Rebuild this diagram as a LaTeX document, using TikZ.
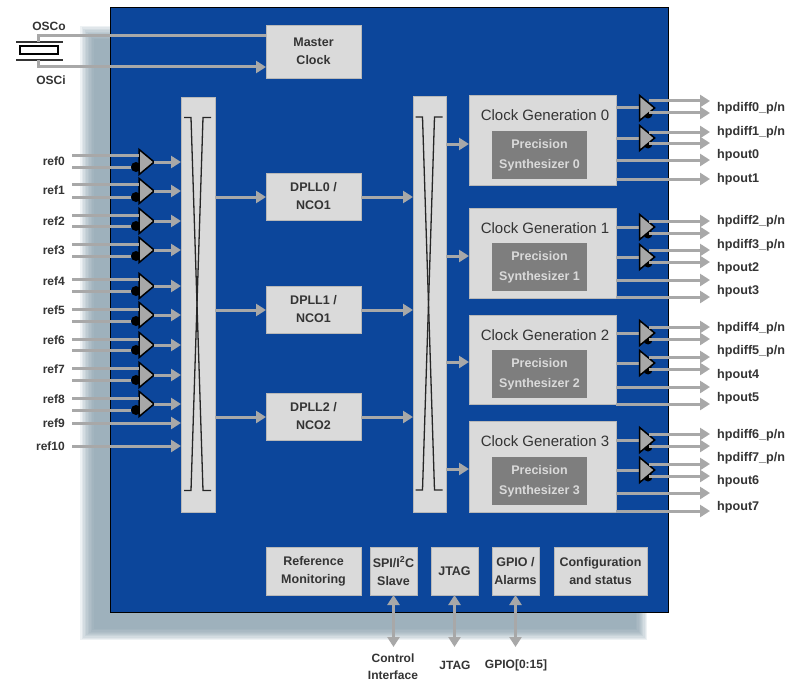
\documentclass[tikz,border=0pt]{standalone}
\usepackage{fontspec}
\setmainfont{Liberation Sans}
\usetikzlibrary{arrows.meta,shapes.geometric,calc}
\definecolor{panel}{RGB}{12,70,155}
\definecolor{boxg}{RGB}{218,218,218}
\definecolor{synth}{RGB}{126,126,126}
\definecolor{wire}{RGB}{168,168,168}
\definecolor{ink}{RGB}{52,52,52}
\definecolor{softshadow}{RGB}{130,155,170}
\tikzset{
  gbox/.style={draw=boxg!85!black,line width=.6pt,fill=boxg,text=ink,font=\bfseries\fontsize{12.5}{18}\selectfont,align=center,inner sep=0pt,outer sep=0pt},
  synthbox/.style={fill=synth,text=boxg,font=\bfseries\fontsize{12.5}{20}\selectfont,align=center,inner sep=0pt,outer sep=0pt},
  lab/.style={text=ink,font=\bfseries\fontsize{12}{17}\selectfont,inner sep=0pt,align=center},
  outlab/.style={lab,anchor=west,font=\bfseries\fontsize{12.6}{17}\selectfont},
  reflab/.style={lab,anchor=east},
  wireline/.style={draw=wire,line width=3pt},
  arrowline/.style={wireline,-{Triangle[length=10pt,width=12pt]}},
  biline/.style={wireline,{Triangle[length=10pt,width=12pt]}-{Triangle[length=10pt,width=12pt]}},
  tri/.style={isosceles triangle,isosceles triangle apex angle=60,isosceles triangle stretches,minimum width=25pt,minimum height=15pt,inner sep=0pt,outer sep=0pt,draw=black,line width=1.5pt,fill=wire},
  dot/.style={circle,fill=black,minimum size=10pt,inner sep=0pt},
  xline/.style={draw=black!85,line width=1.3pt},
}
\begin{document}
\begin{tikzpicture}[x=1pt,y=-1pt]
\useasboundingbox (0,0) rectangle (797,682);
\fill[white] (0,0) rectangle (797,682);
% soft shadow
\foreach \i in {0,...,9}{
  \fill[softshadow,opacity=.13] ({80+1.5*\i},{26+1.5*\i}) rectangle ({647-1.2*\i},{640-1.2*\i});
}
% panel
\node[draw=black,line width=.8pt,fill=panel,minimum width=558pt,minimum height=605pt,inner sep=0pt,outer sep=0pt] (panel) at (389,309.5) {};

% blocks
\node[gbox,minimum width=95pt,minimum height=53pt] (mc) at (313.5,51.5) {Master\\Clock};
\node[gbox,minimum width=34pt,minimum height=415pt] (mxl) at (198,304.5) {};
\node[gbox,minimum width=33pt,minimum height=416pt] (mxr) at (429.5,304) {};
\node[gbox,minimum width=95pt,minimum height=47pt] (d0) at (313.5,196.5) {DPLL0 /\\NCO1};
\node[gbox,minimum width=95pt,minimum height=47pt] (d1) at (313.5,309.5) {DPLL1 /\\NCO1};
\node[gbox,minimum width=95pt,minimum height=47pt] (d2) at (313.5,416.5) {DPLL2 /\\NCO2};

% crossbar strokes
\foreach \m in {mxl,mxr}{
  \draw[xline] ([shift={(-14pt,-186pt)}]\m.center) -- ++(7,0) -- ([shift={(5pt,187pt)}]\m.center) -- ++(8,0);
  \draw[xline] ([shift={(13pt,-186pt)}]\m.center) -- ++(-8,0) -- ([shift={(-7pt,187pt)}]\m.center) -- ++(-7,0);
}

% clock generators
\foreach \n/\top/\h/\st/\sh in {0/95/90/131/48,1/208/90/243/48,2/315/89/350/48,3/421/91/457/48}{
  \node[gbox,minimum width=147pt,minimum height=\h pt] (g\n) at (542.5,{\top+\h/2}) {};
  \node[text=ink,font=\fontsize{15}{18}\selectfont,inner sep=0pt] (gt\n) at (545,{\top+20}) {Clock Generation \n};
  \node[synthbox,minimum width=95pt,minimum height=\sh pt] (s\n) at (539.5,{\st+\sh/2}) {Precision\\Synthesizer \n};
}

% bottom blocks
\node[gbox,minimum width=95pt,minimum height=48pt] (rm) at (313.5,571) {Reference\\Monitoring};
\node[gbox,minimum width=47pt,minimum height=48pt] (spi) at (393.5,571) {SPI/I\textsuperscript{2}C\\Slave};
\node[gbox,minimum width=47pt,minimum height=48pt] (jt) at (454.5,571) {JTAG};
\node[gbox,minimum width=47pt,minimum height=48pt] (gp) at (515.5,571) {GPIO /\\Alarms};
\node[gbox,minimum width=93pt,minimum height=48pt] (cf) at (600.5,571) {Configuration\\and status};

% crystal
\coordinate (xo) at (38,42);
\coordinate (xi) at (38,60);
\node[draw=black,fill=white,line width=1.4pt,minimum width=38pt,minimum height=8pt,inner sep=0pt] (xt) at (39,50) {};
\draw[draw=ink,line width=1.6pt] (16,42) -- (63,42) (16,60) -- (63,60);
\draw[wireline] (xo) |- (mc.west |- 0,36);
\draw[arrowline] (xi) |- (mc.west |- 0,67);
\node[lab] (losco) at (49,26) {OSCo};
\node[lab] (losci) at (51,80) {OSCi};

% reference inputs with buffers
\foreach \i/\yc/\ya/\yb/\yl in {0/162/155/167/161,1/191/184/197/190,2/221/215/226/221,3/250/244/256/250,4/286/279/291/281,5/315/309/321/310,6/345/339/350/340,7/375/368/380/369,8/404/398/410/399}{
  \node[reflab] (lr\i) at (65,\yl) {ref\i};
  \coordinate (ra\i) at (72,\ya);
  \coordinate (rb\i) at (72,\yb);
  \node[dot] (bd\i) at (136,{\yb}) {};
  \node[tri] (b\i) at (145,\yc) {};
  \draw[wireline] (ra\i) -- (ra\i -| b\i.west);
  \draw[wireline] (rb\i) -- (bd\i);
  \draw[arrowline] (b\i.east) -- (mxl.west |- b\i.east);
}
\foreach \i/\y in {9/423,10/446}{
  \node[reflab] (lr\i) at (65,\y) {ref\i};
  \coordinate (rs\i) at (72,\y);
  \draw[arrowline] (rs\i) -- (mxl.west |- rs\i);
}

% core connections
\foreach \d/\y in {d0/197,d1/310,d2/417}{
  \draw[arrowline] (mxl.east |- 0,\y) -- (\d.west |- 0,\y);
  \draw[arrowline] (\d.east |- 0,\y) -- (mxr.west |- 0,\y);
}
\foreach \n/\y in {0/144,1/256,2/362,3/469}{
  \draw[arrowline] (mxr.east |- 0,\y) -- (g\n.west |- 0,\y);
}

% differential output buffers
\foreach \k/\g/\yc/\ya/\yb/\yl in {
 0/0/108/101/113/108,
 1/0/138/132/143/132,
 2/1/227/221/233/221,
 3/1/257/250/262/245,
 4/2/333/327/339/328,
 5/2/363/357/369/351,
 6/3/440/434/446/435,
 7/3/470/464/476/458}{
  \draw[wireline] (g\g.east |- 0,\yc) -- (640,\yc) coordinate (ob\k);
  \node[dot,minimum size=9pt] (od\k) at (648,{\yb+1}) {};
  \node[tri] (ot\k) at (645.5,\yc) {};
  \coordinate (oa\k) at (710,\ya);
  \coordinate (oc\k) at (710,\yb);
  \draw[arrowline] (649,\ya) -- (oa\k);
  \draw[arrowline] (649,\yb) -- (oc\k);
  \node[outlab] (ol\k) at (717,\yl) {hpdiff\k\_p{/}n};
}
\foreach \k/\g/\y/\yl in {0/0/160/155,1/0/179/179,2/1/280/268,3/1/297/291,4/2/387/375,5/2/404/398,6/3/493/481,7/3/511/507}{
  \coordinate (po\k) at (710,\y);
  \draw[arrowline] (g\g.east |- po\k) -- (po\k);
  \node[outlab] (pl\k) at (717,\yl) {hpout\k};
}

% bottom I/O
\node[lab] (lci) at (393,667) {Control\\Interface};
\node[lab] (ljt) at (455,665) {JTAG};
\node[lab] (lgp) at (516,665) {GPIO[0:15]};
\draw[biline] (spi.south) -- (393.5,647);
\draw[biline] (jt.south) -- (454.5,647);
\draw[biline] (gp.south) -- (515.5,647);
\end{tikzpicture}
\end{document}
